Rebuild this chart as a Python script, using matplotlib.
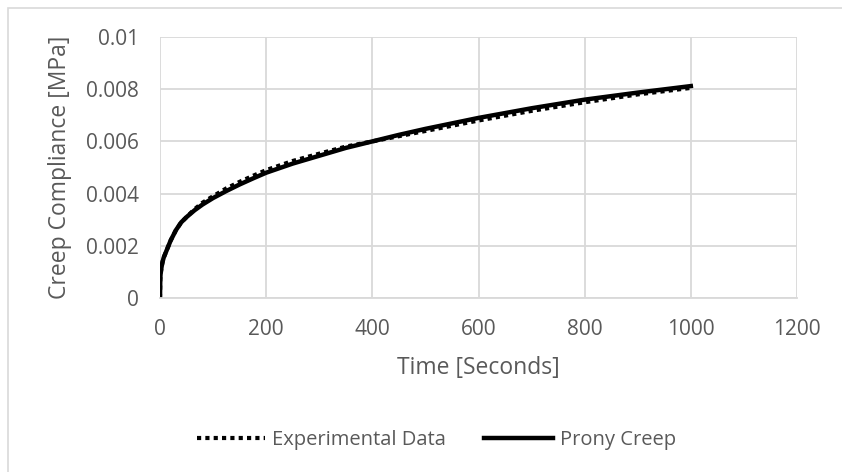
import matplotlib
matplotlib.use("Agg")
import matplotlib.pyplot as plt
from matplotlib.patches import Rectangle

# Creep test: time [s] and compliance
time_s = [0, 0.5, 1, 2, 3, 5, 7, 10, 15, 20, 30, 40, 50, 65, 80, 100, 125, 150,
          175, 200, 250, 300, 350, 400, 450, 500, 600, 700, 800, 900, 1000]
experimental = [0, 0.0007, 0.0009, 0.00105, 0.0012, 0.0014, 0.00155, 0.0017,
                0.00195, 0.0022, 0.0026, 0.0029, 0.0031, 0.0034, 0.00365,
                0.0039, 0.0042, 0.00445, 0.00468, 0.0049, 0.00525, 0.00553,
                0.0058, 0.006, 0.0062, 0.0064, 0.0068, 0.00717, 0.0075,
                0.0078, 0.00805]
prony = [0, 0.0007, 0.0009, 0.00105, 0.0012, 0.0014, 0.00155, 0.0017,
         0.00195, 0.0022, 0.0026, 0.0029, 0.0031, 0.00336, 0.00358,
         0.00383, 0.0041, 0.00435, 0.00458, 0.0048, 0.00515, 0.00545,
         0.00575, 0.006, 0.00625, 0.00648, 0.0069, 0.00727, 0.0076,
         0.00787, 0.00812]

x_ticks = [0, 200, 400, 600, 800, 1000, 1200]
y_ticks = [0, 0.002, 0.004, 0.006, 0.008, 0.01]
y_labels = ["0", "0.002", "0.004", "0.006", "0.008", "0.01"]

plt.rcParams["font.family"] = ["Open Sans", "DejaVu Sans"]
text_color = "#595959"
grid_color = "#d9d9d9"

W, H = 842, 472
fig = plt.figure(figsize=(W / 100, H / 100), dpi=100)

# chart-area border
fig.patches.append(Rectangle((8 / W, -0.05), 1.1, 1.05 - 8 / H, transform=fig.transFigure,
                             fill=False, edgecolor=grid_color, linewidth=1.2))

left, right, top, bottom = 160, 797, 37, 298
ax = fig.add_axes([left / W, 1 - bottom / H, (right - left) / W, (bottom - top) / H])

ax.plot(time_s, experimental, color="black", linestyle=(0, (1, 1)), linewidth=3,
        label="Experimental Data")
ax.plot(time_s, prony, color="black", linestyle="-", linewidth=3.2,
        label="Prony Creep")

ax.set_xlim(0, 1200)
ax.set_ylim(0, 0.01)
ax.set_xticks(x_ticks)
ax.set_yticks(y_ticks)
ax.set_yticklabels(y_labels)
ax.grid(True, color=grid_color, linewidth=1.3)
ax.set_axisbelow(True)
for side in ["top", "right", "left"]:
    ax.spines[side].set_visible(False)
ax.spines["bottom"].set_color(grid_color)
ax.spines["bottom"].set_linewidth(1.3)
ax.tick_params(axis="x", length=0, labelsize=15, colors=text_color, pad=15)
ax.tick_params(axis="y", length=0, labelsize=15, colors=text_color, pad=15)

fig.text((left + right) / 2 / W, 1 - 368 / H, "Time [Seconds]", fontsize=16.5,
         color=text_color, ha="center", va="center")
fig.text(60 / W, 1 - (top + bottom) / 2 / H, "Creep Compliance [MPa]", fontsize=16.5,
         color=text_color, ha="center", va="center", rotation=90)

fig.legend(loc="center", bbox_to_anchor=(0.518, 1 - 440 / H), ncol=2, frameon=False,
           fontsize=14.5, labelcolor=text_color, handlelength=3.4,
           handletextpad=0.35, columnspacing=1.9)

fig.savefig("out.png", dpi=100)
